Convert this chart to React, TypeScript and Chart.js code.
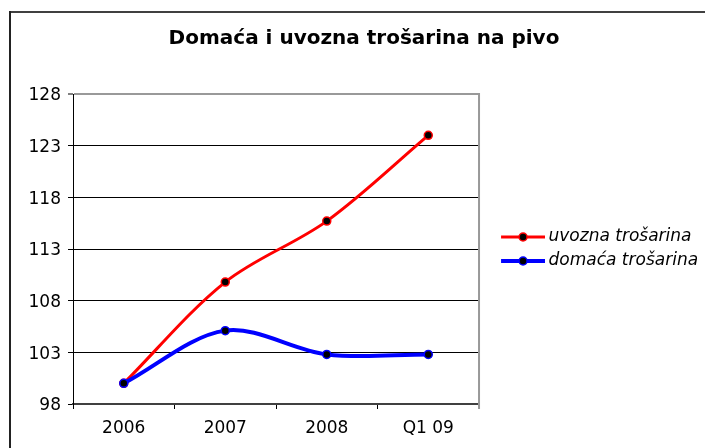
import React, { useEffect, useRef } from 'react';
import { Chart, registerables } from 'chart.js';

Chart.register(...registerables);

const chartTitle = 'Domaća i uvozna trošarina na pivo';
const categories = ['2006', '2007', '2008', 'Q1 09'];
const seriesLabels = ['uvozna trošarina', 'domaća trošarina'];
const uvoznaTrosarina = [100.0, 109.8, 115.7, 124.0];
const domacaTrosarina = [100.0, 105.1, 102.8, 102.8];
const yTickValues = [98, 103, 108, 113, 118, 123, 128];
const seriesColors = ['#FF0000', '#0000FF'];

const CW = 720;
const CH = 460;
const FONT = '"DejaVu Sans", Verdana, sans-serif';

function legendSymbol(color: string, lineWidth: number) {
  const c = document.createElement('canvas');
  c.width = 64;
  c.height = 12;
  const g = c.getContext('2d')!;
  g.strokeStyle = color;
  g.lineWidth = lineWidth;
  g.beginPath();
  g.moveTo(20, 6);
  g.lineTo(64, 6);
  g.stroke();
  g.beginPath();
  g.arc(42, 6, 4, 0, Math.PI * 2);
  g.fillStyle = '#000';
  g.fill();
  g.lineWidth = 1.5;
  g.strokeStyle = color;
  g.stroke();
  return c;
}

const framePlugin = {
  id: 'frame',
  beforeDraw(chart: any) {
    const ctx = chart.ctx;
    ctx.save();
    ctx.fillStyle = '#ffffff';
    ctx.fillRect(0, 0, chart.width, chart.height);
    ctx.fillStyle = '#404040';
    ctx.fillRect(9, 11, chart.width, 2);
    ctx.fillStyle = '#222222';
    ctx.fillRect(9, 11, 2, chart.height);
    ctx.restore();
  },
  beforeDatasetsDraw(chart: any) {
    const { ctx, chartArea } = chart;
    ctx.save();
    ctx.fillStyle = '#999999';
    ctx.fillRect(chartArea.right - 1, chartArea.top - 1, 2, chartArea.bottom - chartArea.top + 6);
    ctx.restore();
  },
};

export default function App() {
  const ref = useRef<HTMLCanvasElement>(null);

  useEffect(() => {
    if (!ref.current) return;
    const symbols = [legendSymbol(seriesColors[0], 3), legendSymbol(seriesColors[1], 4)];
    const chart = new Chart(ref.current, {
      type: 'line',
      data: {
        labels: categories,
        datasets: [
          {
            label: seriesLabels[0],
            data: uvoznaTrosarina,
            borderColor: seriesColors[0],
            borderWidth: 3,
            pointRadius: 4,
            pointBorderWidth: 1.5,
            pointBackgroundColor: '#000',
            pointBorderColor: seriesColors[0],
            tension: 0.33,
            fill: false,
            order: 2,
          },
          {
            label: seriesLabels[1],
            data: domacaTrosarina,
            borderColor: seriesColors[1],
            borderWidth: 4,
            pointRadius: 4,
            pointBorderWidth: 1.5,
            pointBackgroundColor: '#000',
            pointBorderColor: seriesColors[1],
            tension: 0.33,
            fill: false,
            order: 1,
          },
        ],
      },
      options: {
        animation: false,
        responsive: false,
        devicePixelRatio: 1,
        layout: { padding: { left: 19.9, right: 11.9, top: 0, bottom: 12.6 } },
        plugins: {
          title: {
            display: true,
            text: chartTitle,
            color: '#000',
            font: { family: FONT, size: 20, weight: 'bold', lineHeight: 1.2 },
            padding: { top: 27, bottom: 43 },
          },
          legend: {
            display: true,
            position: 'right',
            fullSize: false,
            maxWidth: 400,
            labels: {
              usePointStyle: true,
              pointStyleWidth: 54,
              padding: 7,
              color: '#000',
              font: { family: FONT, size: 17, style: 'italic' },
              generateLabels: (ch: any) =>
                ch.data.datasets.map((ds: any, i: number) => ({
                  text: ds.label,
                  fillStyle: ds.borderColor,
                  strokeStyle: ds.borderColor,
                  lineWidth: 0,
                  pointStyle: symbols[i],
                  hidden: false,
                  datasetIndex: i,
                  fontColor: '#000',
                })),
            },
          },
          tooltip: { enabled: false },
        },
        scales: {
          x: {
            type: 'category',
            offset: true,
            grid: {
              offset: true,
              drawOnChartArea: false,
              drawTicks: true,
              tickLength: 5,
              color: '#000',
              lineWidth: 1,
            },
            border: { display: true, color: '#404040', width: 2 },
            ticks: {
              color: '#000',
              padding: 9,
              font: { family: FONT, size: 17 },
              maxRotation: 0,
            },
          },
          y: {
            type: 'linear',
            min: 98,
            max: 128,
            afterFit: (scale: any) => {
              scale.width = 53.1;
            },
            afterBuildTicks: (scale: any) => {
              scale.ticks = yTickValues.map((v) => ({ value: v }));
            },
            grid: {
              drawTicks: true,
              tickLength: 5,
              color: (c: any) => (c.tick && c.tick.value === 128 ? '#999999' : '#000000'),
              lineWidth: (c: any) => (c.tick && c.tick.value === 128 ? 2 : 1),
              tickColor: '#000',
              tickWidth: 1,
            },
            border: { display: true, color: '#000', width: 1 },
            ticks: {
              color: '#000',
              padding: 7,
              labelOffset: 2,
              font: { family: FONT, size: 17 },
            },
          },
        },
      },
      plugins: [framePlugin],
    } as any);
    return () => chart.destroy();
  }, []);

  return (
    <div
      style={{
        position: 'fixed',
        left: 0,
        top: 0,
        width: 705,
        height: 448,
        overflow: 'hidden',
        background: '#fff',
      }}
    >
      <canvas ref={ref} width={CW} height={CH} style={{ display: 'block', width: CW, height: CH }} />
    </div>
  );
}
